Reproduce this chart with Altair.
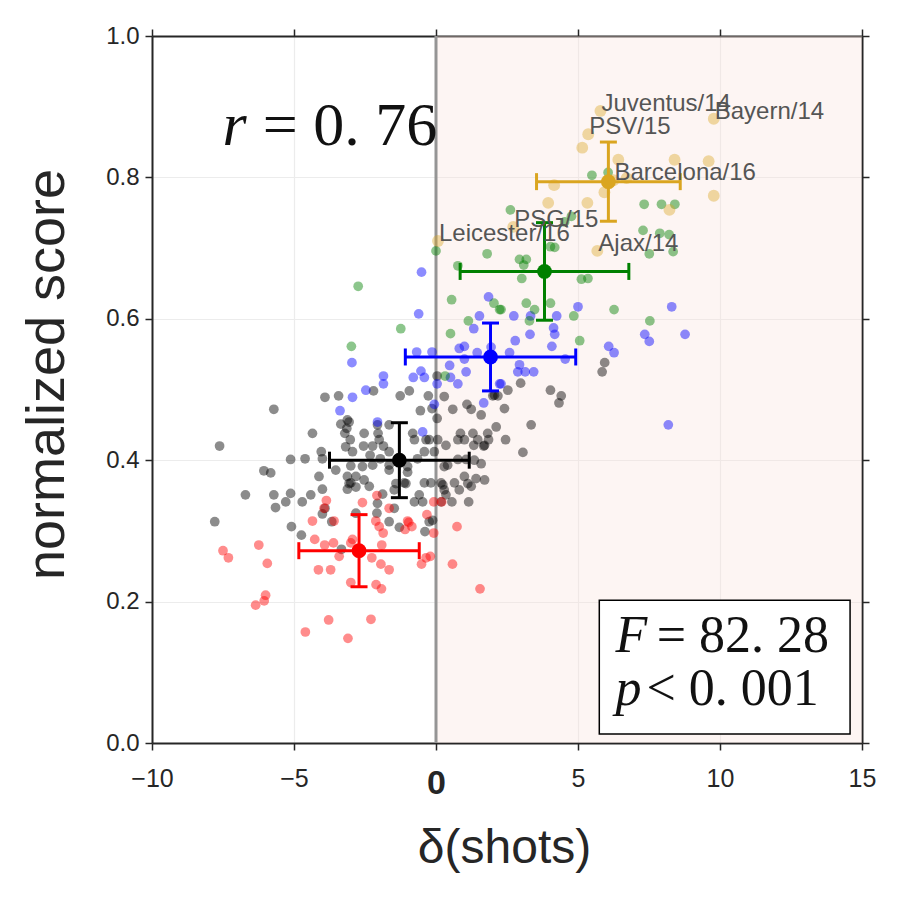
import altair as alt
import pandas as pd

# ---------------- data ----------------
black_x = [-5.71, -3.91, -3.43, -2.20, -1.26, -0.94, -4.35, -3.35, -3.06, -3.14, -3.21, -3.02, -2.53, -2.06, -2.04,
           -2.00, -1.65, -0.55, -0.27, -0.82, -0.76, -0.24, -0.41, -0.06, -3.18, -2.94, -2.55, -2.23, -2.32, -1.85,
           -1.65, -4.04, -4.00, -5.12, -4.61, -3.53, -3.00, -2.59, -2.23, -1.65, -1.65, -1.00, -0.65, -4.12, -3.12,
           -2.82, -5.82,
           -7.62, 0.04, 0.29, -0.14, 0.59, 1.09, 1.24, 1.59, 2.06, 2.41, 2.53, 2.12, 2.45, 0.86, 1.30, 1.82, 0.77,
           1.00, 1.33, 1.71, 0.35, 0.06, -0.35, 0.77, 1.06, 1.35, 1.59, 0.29, -1.00, -0.41, -0.18, 0.18, 0.65, 1.00,
           1.41, 1.71, 1.24, 0.29, 0.82, -1.12, -1.47, -3.00, -2.53, -4.00, -6.06, -6.71, -5.71, -5.12, -4.41, -3.12,
           -1.96,
           2.98, 2.18, 2.00, 4.03, 4.41, 4.33, 0.04, 3.35, 1.85, 1.47, 1.68, 3.06, 0.41,
           1.15, 0.56, 0.35, -0.12, 0.24, 1.12,
           5.94, 5.85,
           -3.06, -5.29, -5.65, -4.71, -3.91, -4.00, -3.67, -5.09, -4.74, -2.82, -2.08, -2.06, -1.88, -1.47, -1.41,
           -1.06, -0.76, -1.65, -1.29, -0.47, -0.39, -0.24, -3.33, -7.79, -2.35, -2.82,
           -0.59, 0.18, -3.12]
black_y = [0.472, 0.489, 0.491, 0.498, 0.491, 0.498, 0.438, 0.451, 0.454, 0.445, 0.438, 0.429, 0.438, 0.450, 0.438,
           0.429, 0.450, 0.470, 0.491, 0.438, 0.429, 0.429, 0.412, 0.412, 0.419, 0.412, 0.420, 0.420, 0.407, 0.420,
           0.412, 0.412, 0.402, 0.401, 0.402, 0.386, 0.392, 0.391, 0.393, 0.393, 0.386, 0.391, 0.402, 0.377, 0.377,
           0.377, 0.382,
           0.420, 0.519, 0.490, 0.473, 0.472, 0.479, 0.472, 0.464, 0.492, 0.473, 0.499, 0.447, 0.429, 0.438, 0.438,
           0.438, 0.429, 0.429, 0.421, 0.421, 0.421, 0.429, 0.429, 0.401, 0.401, 0.400, 0.395, 0.391, 0.383, 0.368,
           0.368, 0.368, 0.368, 0.377, 0.374, 0.372, 0.363, 0.358, 0.358, 0.368, 0.358, 0.368, 0.372, 0.359, 0.385,
           0.351, 0.351, 0.353, 0.351, 0.457, 0.402,
           0.509, 0.491, 0.491, 0.499, 0.491, 0.481, 0.459, 0.450, 0.429, 0.429, 0.420, 0.411, 0.393,
           0.341, 0.341, 0.351, 0.315, 0.365, 0.367,
           0.538, 0.525,
           0.367, 0.341, 0.333, 0.341, 0.332, 0.324, 0.313, 0.306, 0.294, 0.325, 0.325, 0.339, 0.352, 0.332, 0.367,
           0.367, 0.341, 0.313, 0.305, 0.341, 0.299, 0.313, 0.274, 0.313, 0.363, 0.362,
           0.351, 0.341, 0.359]

red_x = [-3.86, -2.59, -2.08, -1.65, -3.94, -4.35, -3.59, -2.12, -1.00, -0.32, -2.00, -1.86, -1.09, -0.85, -0.08,
         0.74, -4.27, -3.92, -3.61, -2.94, -3.00, -1.91, -6.24, -7.50, -7.31, -5.94, -3.41, -2.26, -1.94, -1.65,
         -4.14, -3.71, -0.51, -0.35, -0.20, 0.58, -3.00, -2.11, -1.92, 1.55, -6.00, -6.05, -6.35, -3.78, -2.29,
         -4.60, -3.10, -0.08, 0.20, -0.96]
red_y = [0.343, 0.340, 0.350, 0.332, 0.332, 0.314, 0.314, 0.314, 0.314, 0.323, 0.306, 0.297, 0.302, 0.306, 0.297,
         0.306, 0.288, 0.280, 0.283, 0.288, 0.283, 0.280, 0.280, 0.272, 0.262, 0.254, 0.264, 0.262, 0.253, 0.245,
         0.245, 0.245, 0.253, 0.262, 0.264, 0.253, 0.227, 0.224, 0.218, 0.218, 0.209, 0.201, 0.195, 0.174, 0.175,
         0.157, 0.148, 0.341, 0.341, 0.312]

blue_x = [-0.51, -0.61, -2.96, -1.85, -1.85, -2.47, -2.94, -3.38, -2.06, -0.80, -0.41, -0.53, -0.68, -0.14, 0.04,
          -0.06, -0.47, 0.48, 0.77, 1.06, 0.82, 1.00, 1.00, 1.33, 1.53, 1.85, 1.45, 2.24, 1.68, 2.59, 5.00, 8.30,
          2.74, 3.33, 4.25, 4.14, 4.18, 3.31, 2.79, 4.08, 6.08, 6.27, 7.35, 7.51, 8.77, 4.55, 2.94, 2.88, 3.14,
          3.44, 2.29, 8.18, 1.94, 0.51]
blue_y = [0.666, 0.607, 0.538, 0.519, 0.508, 0.499, 0.489, 0.470, 0.454, 0.517, 0.517, 0.526, 0.553, 0.553, 0.508,
          0.479, 0.440, 0.534, 0.508, 0.525, 0.558, 0.561, 0.543, 0.586, 0.604, 0.631, 0.552, 0.508, 0.481, 0.552,
          0.617, 0.617, 0.604, 0.604, 0.604, 0.587, 0.578, 0.578, 0.569, 0.561, 0.561, 0.552, 0.578, 0.568, 0.578,
          0.543, 0.535, 0.525, 0.525, 0.525, 0.508, 0.450, 0.560, 0.517]

green_x = [-2.74, -1.24, -2.98, 0.77, 0.55, 2.04, 2.24, 1.14, 0.51, 0.32, 0.00, 1.80, 2.62, 4.53, 4.03, 4.18, 2.94,
           3.18, 3.09, 3.02, 7.33, 7.94, 8.41, 7.29, 7.88, 8.21, 7.51, 8.35, 5.12, 5.35, 5.49, 3.18, 4.03, 3.47,
           3.29, 2.29, 4.85, 6.27, 7.53, 5.06, 4.77, 6.06]
green_y = [0.646, 0.586, 0.561, 0.675, 0.627, 0.622, 0.613, 0.597, 0.579, 0.519, 0.696, 0.692, 0.754, 0.737, 0.702,
           0.701, 0.684, 0.684, 0.676, 0.657, 0.762, 0.762, 0.762, 0.725, 0.721, 0.719, 0.692, 0.695, 0.656, 0.657,
           0.803, 0.622, 0.622, 0.613, 0.597, 0.613, 0.604, 0.613, 0.597, 0.569, 0.745, 0.807]

orange_x = [5.79, 9.78, 5.36, 5.15, 6.42, 8.40, 9.60, 6.71, 6.25, 4.16, 5.93, 9.78, 3.95, 5.33, 8.22, 2.72, 5.68, 0.07]
orange_y = [0.894, 0.883, 0.861, 0.842, 0.825, 0.825, 0.823, 0.799, 0.796, 0.789, 0.779, 0.774, 0.764, 0.764, 0.754,
            0.730, 0.696, 0.710]

label_names = ["Juventus/14", "Bayern/14", "PSV/15", "Barcelona/16", "PSG/15", "Ajax/14", "Leicester/16"]
label_x = [5.79, 9.78, 5.36, 6.25, 2.72, 5.68, 0.07]
label_y = [0.894, 0.883, 0.861, 0.796, 0.730, 0.696, 0.710]

group_names = ["black", "red", "blue", "green", "orange"]
group_colors = ["#000000", "#ff0000", "#0000ff", "#008000", "#daa520"]

# group means and error half-widths (order: black, red, blue, green, orange)
mean_x = [-1.29, -2.71, 1.92, 3.82, 6.07]
mean_y = [0.400, 0.272, 0.546, 0.667, 0.794]
err_x = [2.46, 2.12, 3.00, 2.97, 2.53]
err_y = [0.053, 0.051, 0.048, 0.069, 0.056]

x_ticks = [-10, -5, 0, 5, 10, 15]
y_ticks = [0.0, 0.2, 0.4, 0.6, 0.8, 1.0]

shade_x = [0]
shade_x2 = [15]
shade_y = [0]
shade_y2 = [1]

# text annotations
math_italic_text = ["r", "F", "p"]
math_italic_x = [-7.52, 6.32, 6.32]
math_italic_y = [0.846, 0.1287, 0.0537]
math_italic_size = [62, 52, 52]
math_rest_text = ["= 0. 76", "= 82. 28", "< 0. 001"]
math_rest_x = [-6.10, 7.77, 7.41]
math_rest_y = [0.846, 0.1287, 0.0537]
math_rest_size = [62, 52, 52]

box_x = [5.75]
box_x2 = [14.58]
box_y = [0.0127]
box_y2 = [0.202]

# ---------------- tables ----------------
pts = []
for g, xs_, ys_ in [("black", black_x, black_y), ("red", red_x, red_y), ("blue", blue_x, blue_y),
                    ("green", green_x, green_y)]:
    for a, b in zip(xs_, ys_):
        pts.append({"grp": g, "x": a, "y": b})
pts = pd.DataFrame(pts)
opts = pd.DataFrame({"grp": ["orange"] * len(orange_x), "x": orange_x, "y": orange_y})

means = pd.DataFrame({
    "grp": group_names, "x": mean_x, "y": mean_y,
    "xlo": [m - e for m, e in zip(mean_x, err_x)], "xhi": [m + e for m, e in zip(mean_x, err_x)],
    "ylo": [m - e for m, e in zip(mean_y, err_y)], "yhi": [m + e for m, e in zip(mean_y, err_y)],
})
labels = pd.DataFrame({"name": label_names, "x": label_x, "y": label_y})
shade = pd.DataFrame({"x": shade_x, "x2": shade_x2, "y": shade_y, "y2": shade_y2})
box = pd.DataFrame({"x": box_x, "x2": box_x2, "y": box_y, "y2": box_y2})
it = pd.DataFrame({"t": math_italic_text, "x": math_italic_x, "y": math_italic_y, "s": math_italic_size})
rest = pd.DataFrame({"t": math_rest_text, "x": math_rest_x, "y": math_rest_y, "s": math_rest_size})
zero = pd.DataFrame({"x": [0]})

FONT = "Liberation Sans"
DARK = "#262626"
xs = alt.Scale(domain=[-10, 15], nice=False, zero=False)
ys = alt.Scale(domain=[0, 1], nice=False, zero=False)
color = alt.Color("grp:N", scale=alt.Scale(domain=group_names, range=group_colors), legend=None)

x_axis = alt.Axis(
    orient="bottom",
    values=x_ticks, grid=True, gridColor="#ececec", gridWidth=1.2,
    domainColor=DARK, domainWidth=2, tickColor=DARK, tickSize=7, tickWidth=1.5,
    labelFont=FONT, labelColor=DARK, labelPadding=16, labelFlush=False,
    labelFontSize={"condition": {"test": "datum.value === 0", "value": 34}, "value": 25},
    labelFontWeight={"condition": {"test": "datum.value === 0", "value": "bold"}, "value": "normal"},
    title="δ(shots)", titleFont=FONT, titleFontSize=48, titleFontWeight="normal", titleColor=DARK,
    titleBaseline="alphabetic", titleY=119, titleX=352, titleAlign="center",
)
y_axis = alt.Axis(
    orient="left",
    values=y_ticks, format=".1f", grid=True, gridColor="#ececec", gridWidth=1.2,
    domainColor=DARK, domainWidth=2, tickColor=DARK, tickSize=7, tickWidth=1.5,
    labelFont=FONT, labelColor=DARK, labelFontSize=24, labelPadding=6, labelFlush=False,
    title="normalized score", titleFont=FONT, titleFontSize=54, titleFontWeight="normal", titleColor=DARK,
    titleBaseline="alphabetic", titleX=-89, titleY=338, titleAlign="center",
)
top_axis = alt.Axis(orient="top", values=x_ticks, labels=False, grid=False, domainColor=DARK, domainWidth=2,
                    tickColor=DARK, tickSize=7, tickWidth=1.5)
right_axis = alt.Axis(orient="right", values=y_ticks, labels=False, grid=False, domainColor=DARK, domainWidth=2,
                      tickColor=DARK, tickSize=7, tickWidth=1.5)

shade_layer = alt.Chart(shade).mark_rect(color="#f9e3dd", opacity=0.35).encode(
    x=alt.X("x:Q", scale=xs, axis=top_axis, title=None), x2="x2:Q",
    y=alt.Y("y:Q", scale=ys, axis=right_axis, title=None), y2="y2:Q",
)
zero_layer = alt.Chart(zero).mark_rule(color="#959595", strokeWidth=3).encode(
    x=alt.X("x:Q", axis=None)
)
points = alt.Chart(pts).mark_circle(size=95, opacity=0.45).encode(
    x=alt.X("x:Q", scale=xs, axis=x_axis), y=alt.Y("y:Q", scale=ys, axis=y_axis), color=color
)
orange_points = alt.Chart(opts).mark_circle(size=140, opacity=0.4).encode(
    x=alt.X("x:Q", axis=None), y=alt.Y("y:Q", axis=None), color=color
)
hbar = alt.Chart(means).mark_rule(strokeWidth=3).encode(
    x=alt.X("xlo:Q", axis=None), x2="xhi:Q", y=alt.Y("y:Q", axis=None), color=color)
vbar = alt.Chart(means).mark_rule(strokeWidth=3).encode(
    x=alt.X("x:Q", axis=None), y=alt.Y("ylo:Q", axis=None), y2="yhi:Q", color=color)
cap_l = alt.Chart(means).mark_tick(orient="vertical", size=17, thickness=3, opacity=1).encode(
    x=alt.X("xlo:Q", axis=None), y=alt.Y("y:Q", axis=None), color=color)
cap_r = alt.Chart(means).mark_tick(orient="vertical", size=17, thickness=3, opacity=1).encode(
    x=alt.X("xhi:Q", axis=None), y=alt.Y("y:Q", axis=None), color=color)
cap_b = alt.Chart(means).mark_tick(orient="horizontal", size=17, thickness=3, opacity=1).encode(
    x=alt.X("x:Q", axis=None), y=alt.Y("ylo:Q", axis=None), color=color)
cap_t = alt.Chart(means).mark_tick(orient="horizontal", size=17, thickness=3, opacity=1).encode(
    x=alt.X("x:Q", axis=None), y=alt.Y("yhi:Q", axis=None), color=color)
mean_pts = alt.Chart(means).mark_circle(size=220, opacity=1).encode(
    x=alt.X("x:Q", axis=None), y=alt.Y("y:Q", axis=None), color=color)

label_layer = alt.Chart(labels).mark_text(
    align="left", baseline="alphabetic", dx=1, font=FONT, fontSize=24, color="#555555"
).encode(x=alt.X("x:Q", axis=None), y=alt.Y("y:Q", axis=None), text="name:N")

box_layer = alt.Chart(box).mark_rect(fill="white", stroke="#000000", strokeWidth=1.5).encode(
    x=alt.X("x:Q", axis=None), x2="x2:Q", y=alt.Y("y:Q", axis=None), y2="y2:Q")
it_layer = alt.Chart(it).mark_text(
    align="left", baseline="alphabetic", font="Liberation Serif", fontStyle="italic", color="#111111"
).encode(x=alt.X("x:Q", axis=None), y=alt.Y("y:Q", axis=None), text="t:N",
         size=alt.Size("s:Q", scale=None, legend=None))
rest_layer = alt.Chart(rest).mark_text(
    align="left", baseline="alphabetic", font="Liberation Serif", color="#111111"
).encode(x=alt.X("x:Q", axis=None), y=alt.Y("y:Q", axis=None), text="t:N",
         size=alt.Size("s:Q", scale=None, legend=None))

chart = alt.layer(
    shade_layer, zero_layer, points, orange_points, hbar, vbar, cap_l, cap_r, cap_b, cap_t, mean_pts,
    label_layer, box_layer, it_layer, rest_layer
).properties(
    width=710, height=707,
    padding={"left": 152, "top": 36, "right": 38, "bottom": 157},
    autosize="none", background="white",
).configure_view(stroke=None)

chart.save("out.html", embed_options={"renderer": "svg", "actions": False})
